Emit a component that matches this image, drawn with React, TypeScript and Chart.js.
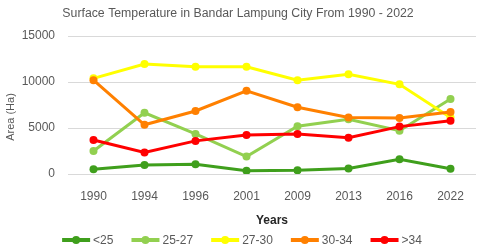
import React, { useEffect, useRef } from "react";
import { Chart, registerables } from "chart.js";

Chart.register(...registerables);

const years = ["1990", "1994", "1996", "2001", "2009", "2013", "2016", "2022"];
const lt25 = [520, 980, 1050, 350, 400, 600, 1600, 560];
const r25_27 = [2500, 6650, 4350, 1900, 5200, 5950, 4700, 8150];
const r27_30 = [10400, 11950, 11650, 11650, 10200, 10850, 9750, 6150];
const r30_34 = [10200, 5350, 6850, 9050, 7250, 6150, 6100, 6750];
const gt34 = [3700, 2350, 3600, 4250, 4350, 3950, 5150, 5800];
const yTicks = [0, 5000, 10000, 15000];

const seriesNames = ["<25", "25-27", "27-30", "30-34", ">34"];
const seriesColors = ["#3f9f1c", "#92d050", "#ffff00", "#ff8000", "#ff0000"];
const seriesData = [lt25, r25_27, r27_30, r30_34, gt34];

const TEXT = "#595959";
const FONT = "'Liberation Sans', Arial, sans-serif";

const textPlugin = {
  id: "texts",
  afterDraw(chart: any) {
    const ctx = chart.ctx as CanvasRenderingContext2D;
    const area = chart.chartArea;
    ctx.save();
    // Title
    ctx.fillStyle = TEXT;
    ctx.font = `12.3px ${FONT}`;
    ctx.textAlign = "center";
    ctx.textBaseline = "middle";
    ctx.fillText("Surface Temperature in Bandar Lampung City From 1990 - 2022", 238, 14);
    // x title
    ctx.fillStyle = "#262626";
    ctx.font = `bold 12px ${FONT}`;
    ctx.fillText("Years", (area.left + area.right) / 2, 221);
    // y title
    ctx.save();
    ctx.translate(11, (area.top + area.bottom) / 2 + 12);
    ctx.rotate(-Math.PI / 2);
    ctx.fillStyle = TEXT;
    ctx.font = `11px ${FONT}`;
    ctx.fillText("Area (Ha)", 0, 0);
    ctx.restore();
    // Legend
    ctx.font = `12px ${FONT}`;
    ctx.textAlign = "left";
    const lineLen = 28;
    const gap1 = 3;
    const gap2 = 18;
    const widths = seriesNames.map((n) => ctx.measureText(n).width);
    const total =
      widths.reduce((a, b) => a + b, 0) + seriesNames.length * (lineLen + gap1) + (seriesNames.length - 1) * gap2;
    let x = 242 - total / 2;
    const y = 240;
    seriesNames.forEach((name, i) => {
      ctx.strokeStyle = seriesColors[i];
      ctx.lineWidth = 4;
      ctx.beginPath();
      ctx.moveTo(x, y);
      ctx.lineTo(x + lineLen, y);
      ctx.stroke();
      ctx.fillStyle = seriesColors[i];
      ctx.beginPath();
      ctx.arc(x + lineLen / 2, y, 4, 0, Math.PI * 2);
      ctx.fill();
      ctx.fillStyle = TEXT;
      ctx.fillText(name, x + lineLen + gap1, y + 1);
      x += lineLen + gap1 + widths[i] + gap2;
    });
    ctx.restore();
  },
};

export default function App() {
  const ref = useRef<HTMLCanvasElement>(null);
  useEffect(() => {
    document.body.style.margin = "0";
    const chart = new Chart(ref.current!, {
      type: "line",
      data: {
        labels: years,
        datasets: seriesNames.map((name, i) => ({
          label: name,
          data: seriesData[i],
          order: seriesNames.length - i,
          borderColor: seriesColors[i],
          backgroundColor: seriesColors[i],
          borderWidth: 3,
          pointRadius: 4,
          pointHoverRadius: 4,
          pointBorderWidth: 0,
          tension: 0,
        })),
      },
      options: {
        animation: false,
        responsive: false,
        layout: { padding: { top: 36, right: 4, left: 0, bottom: 0 } },
        plugins: { legend: { display: false }, title: { display: false }, tooltip: { enabled: false } },
        scales: {
          x: {
            offset: true,
            grid: { display: false, drawTicks: false, offset: true },
            border: { display: false },
            ticks: { color: TEXT, font: { size: 12, family: FONT }, padding: 15, maxRotation: 0 },
            afterFit(s: any) {
              s.height = 75;
            },
          },
          y: {
            min: 0,
            max: 15000,
            grid: { color: "#d9d9d9", drawTicks: false, lineWidth: 1 },
            border: { display: false },
            afterBuildTicks(s: any) {
              s.ticks = yTicks.map((v) => ({ value: v }));
            },
            ticks: {
              color: TEXT,
              font: { size: 12, family: FONT },
              padding: 13,
              callback: (v: any) => String(v),
            },
            afterFit(s: any) {
              s.width = 68;
            },
          },
        },
      },
      plugins: [textPlugin],
    });
    return () => chart.destroy();
  }, []);
  return <canvas ref={ref} width={480} height={249} style={{ display: "block" }} />;
}
